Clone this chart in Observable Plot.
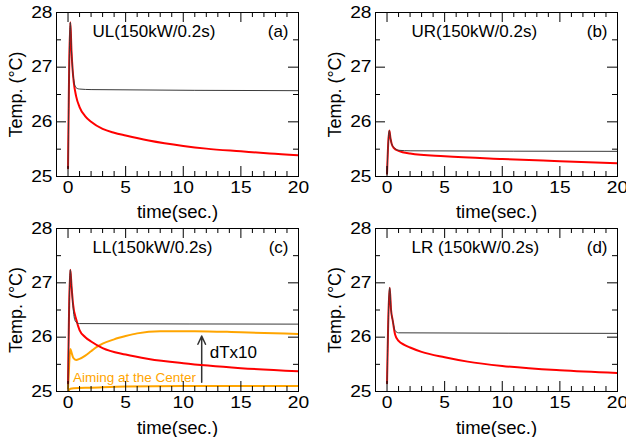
<!DOCTYPE html>
<html>
<head>
<meta charset="utf-8">
<script src="https://cdn.jsdelivr.net/npm/d3@7"></script>
<script src="https://cdn.jsdelivr.net/npm/@observablehq/plot@0.6"></script>
<style>
  html, body { margin: 0; padding: 0; background: white; }
  #wrap { position: relative; width: 626px; height: 437px; background: white; overflow: hidden; }
  .panel { position: absolute; }
  .panel svg { overflow: visible; }
</style>
</head>
<body>
<div id="wrap"></div>
<script>
// ---- text ----
const panelTitles = ["UL(150kW/0.2s)", "UR(150kW/0.2s)", "LL(150kW/0.2s)", "LR (150kW/0.2s)"];
const panelTags = ["(a)", "(b)", "(c)", "(d)"];
const xLabel = "time(sec.)";
const yLabel = "Temp. (°C)";
const xTicks = [0, 5, 10, 15, 20];
const xMinorTicks = [1, 2, 3, 4, 6, 7, 8, 9, 11, 12, 13, 14, 16, 17, 18, 19];
const yTicks = [25, 26, 27, 28];
const yMinorTicks = [25.5, 26.5, 27.5];

// ---- UL (a) ----
const UL_red_t = [0, 0.2, 0.3, 0.4, 0.5, 0.7, 1.0, 1.5, 2, 3, 4, 5, 7, 10, 12, 15, 17.5, 20];
const UL_red_v = [25.15, 27.82, 27.3, 26.95, 26.72, 26.47, 26.27, 26.1, 26.0, 25.87, 25.8, 25.75, 25.66, 25.56, 25.51, 25.46, 25.42, 25.39];
const UL_black_t = [0, 0.2, 0.3, 0.4, 0.5, 0.6, 0.8, 1.0, 2, 20];
const UL_black_v = [25.15, 27.82, 27.3, 26.95, 26.76, 26.66, 26.61, 26.6, 26.59, 26.57];

// ---- UR (b) ----
const UR_red_t = [0, 0.2, 0.3, 0.4, 0.6, 1.0, 2, 5, 10, 15, 20];
const UR_red_v = [25.05, 25.84, 25.7, 25.6, 25.52, 25.47, 25.42, 25.37, 25.32, 25.28, 25.24];
const UR_black_t = [0, 0.2, 0.3, 0.4, 0.6, 1.0, 2, 20];
const UR_black_v = [25.05, 25.84, 25.7, 25.6, 25.53, 25.48, 25.47, 25.46];

// ---- LL (c) ----
const LL_red_t = [0, 0.2, 0.3, 0.43, 0.72, 1.0, 1.5, 2, 3, 5, 7, 10, 15, 20];
const LL_red_v = [25.15, 27.24, 26.95, 26.62, 26.32, 26.13, 26.0, 25.92, 25.8, 25.68, 25.6, 25.52, 25.43, 25.37];
const LL_black_t = [0, 0.2, 0.3, 0.4, 0.5, 0.6, 0.8, 1.0, 20];
const LL_black_v = [25.15, 27.24, 26.95, 26.65, 26.42, 26.31, 26.26, 26.25, 26.24];
const LL_aimUpper_t = [0, 0.1, 0.2, 0.3, 0.45, 0.7, 1.0, 1.5, 2, 2.5, 3, 4, 5, 6, 8, 11, 15, 20];
const LL_aimUpper_v = [25.05, 25.5, 25.78, 25.72, 25.62, 25.58, 25.6, 25.66, 25.74, 25.82, 25.88, 25.96, 26.02, 26.07, 26.11, 26.11, 26.09, 26.06];
const LL_aimLower_t = [0, 0.2, 0.5, 2, 5, 10, 20];
const LL_aimLower_v = [25.0, 25.05, 25.06, 25.07, 25.09, 25.1, 25.1];
const LL_arrow = {x: 11.6, y1: 25.17, y2: 26.02};
const LL_arrowLabel = {text: "dTx10", x: 12.3, y: 25.72};
const LL_aimLabel = {text: "Aiming at the Center", x: 0.43, y: 25.25};

// ---- LR (d) ----
const LR_red_t = [0, 0.23, 0.35, 0.5, 0.7, 1.0, 1.5, 2, 3, 5, 7, 10, 15, 20];
const LR_red_v = [25.15, 26.91, 26.5, 26.3, 26.05, 25.93, 25.86, 25.81, 25.73, 25.63, 25.55, 25.47, 25.39, 25.34];
const LR_black_t = [0, 0.23, 0.35, 0.5, 0.7, 1.0, 20];
const LR_black_v = [25.15, 26.91, 26.5, 26.3, 26.12, 26.08, 26.07];

const zip = (t, v) => t.map((d, i) => ({t: d, v: v[i]}));

const RED = "#ff0000", BLACK = "#3a3a3a", ORANGE = "#ffa500";
const FONT = "'Liberation Sans', Arial, Helvetica, sans-serif";
const MAJ = 10, MIN = 5;          // tick lengths, px
const X0 = -1, X1 = 20, Y0 = 25, Y1 = 28;

function panel(cfg) {
  const {title, tag, red, black, extra = [], left, top, width, height, mt, mb, ml, mr, labelDy} = cfg;
  const fh = height - mt - mb, fw = width - ml - mr;
  const ky = (Y1 - Y0) / fh, kx = (X1 - X0) / fw;   // data units per pixel, for tick lengths
  const tk = {stroke: "black", strokeWidth: 1};
  const chart = Plot.plot({
    width, height,
    marginTop: mt, marginBottom: mb, marginLeft: ml, marginRight: mr,
    x: {domain: [X0, X1]},
    y: {domain: [Y0, Y1]},
    style: {fontFamily: FONT, fontSize: "16px", color: "black", background: "transparent", overflow: "visible"},
    marks: [
      ...extra,
      Plot.line(red, {x: "t", y: "v", stroke: RED, strokeWidth: 2, curve: "monotone-x", clip: true}),
      Plot.line(black, {x: "t", y: "v", stroke: BLACK, strokeWidth: 1, curve: "monotone-x", clip: true}),
      // inward ticks on all four sides
      Plot.ruleX(xTicks, {x: d => d, y1: Y0, y2: Y0 + MAJ * ky, ...tk}),
      Plot.ruleX(xMinorTicks, {x: d => d, y1: Y0, y2: Y0 + MIN * ky, ...tk}),
      Plot.ruleX(xTicks, {x: d => d, y1: Y1, y2: Y1 - MAJ * ky, ...tk}),
      Plot.ruleX(xMinorTicks, {x: d => d, y1: Y1, y2: Y1 - MIN * ky, ...tk}),
      Plot.ruleY(yTicks, {y: d => d, x1: X0, x2: X0 + MAJ * kx, ...tk}),
      Plot.ruleY(yMinorTicks, {y: d => d, x1: X0, x2: X0 + MIN * kx, ...tk}),
      Plot.ruleY(yTicks, {y: d => d, x1: X1, x2: X1 - MAJ * kx, ...tk}),
      Plot.ruleY(yMinorTicks, {y: d => d, x1: X1, x2: X1 - MIN * kx, ...tk}),
      Plot.frame({stroke: "black", strokeWidth: 1}),
      Plot.axisX({ticks: xTicks, tickSize: 0, tickPadding: 5, tickFormat: d => String(d), label: null, fontSize: 16}),
      Plot.axisY({ticks: yTicks, tickSize: 0, tickPadding: 4, tickFormat: d => String(d), label: null, fontSize: 16}),
      Plot.text([xLabel], {frameAnchor: "bottom", dy: labelDy, lineAnchor: "bottom", textAnchor: "middle", fontSize: 18.5}),
      Plot.text([yLabel], {frameAnchor: "left", dx: -47, rotate: -90, lineAnchor: "top", textAnchor: "middle", fontSize: 18}),
      Plot.text([title], {frameAnchor: "top-left", dx: 36, dy: 12, lineAnchor: "top", textAnchor: "start", fontSize: 17}),
      Plot.text([tag], {frameAnchor: "top-right", dx: -10, dy: 12, lineAnchor: "top", textAnchor: "end", fontSize: 17})
    ]
  });
  // the reference's tick numerals are drawn slightly wide: stretch them horizontally about their anchor
  chart.querySelectorAll('g[aria-label$="tick label"] text').forEach(t => {
    t.setAttribute("transform", (t.getAttribute("transform") || "") + " scale(1.2,1)");
  });
  const div = document.createElement("div");
  div.className = "panel";
  div.style.left = left + "px";
  div.style.top = top + "px";
  div.appendChild(chart);
  document.getElementById("wrap").appendChild(div);
}

panel({title: panelTitles[0], tag: panelTags[0], red: zip(UL_red_t, UL_red_v), black: zip(UL_black_t, UL_black_v),
  left: 0, top: 0, width: 313, height: 216, mt: 12, mb: 40, ml: 56, mr: 15, labelDy: 41});
panel({title: panelTitles[1], tag: panelTags[1], red: zip(UR_red_t, UR_red_v), black: zip(UR_black_t, UR_black_v),
  left: 313, top: 0, width: 313, height: 216, mt: 12, mb: 40, ml: 62, mr: 9, labelDy: 41});
panel({title: panelTitles[2], tag: panelTags[2], red: zip(LL_red_t, LL_red_v), black: zip(LL_black_t, LL_black_v),
  left: 0, top: 216, width: 313, height: 221, mt: 12, mb: 46, ml: 56, mr: 15, labelDy: 42,
  extra: [
    Plot.line(zip(LL_aimUpper_t, LL_aimUpper_v), {x: "t", y: "v", stroke: ORANGE, strokeWidth: 2, curve: "monotone-x", clip: true}),
    Plot.line(zip(LL_aimLower_t, LL_aimLower_v), {x: "t", y: "v", stroke: ORANGE, strokeWidth: 2, curve: "monotone-x", clip: true}),
    Plot.arrow([LL_arrow], {x: "x", y1: "y1", y2: "y2", stroke: "#333", strokeWidth: 1.5, headLength: 9, headAngle: 50}),
    Plot.text([LL_arrowLabel], {x: "x", y: "y", text: "text", textAnchor: "start", lineAnchor: "middle", fontSize: 17}),
    Plot.text([LL_aimLabel], {x: "x", y: "y", text: "text", textAnchor: "start", lineAnchor: "middle", fontSize: 13.5, fill: ORANGE})
  ]});
panel({title: panelTitles[3], tag: panelTags[3], red: zip(LR_red_t, LR_red_v), black: zip(LR_black_t, LR_black_v),
  left: 313, top: 216, width: 313, height: 221, mt: 12, mb: 46, ml: 62, mr: 9, labelDy: 42});
</script>
</body>
</html>
